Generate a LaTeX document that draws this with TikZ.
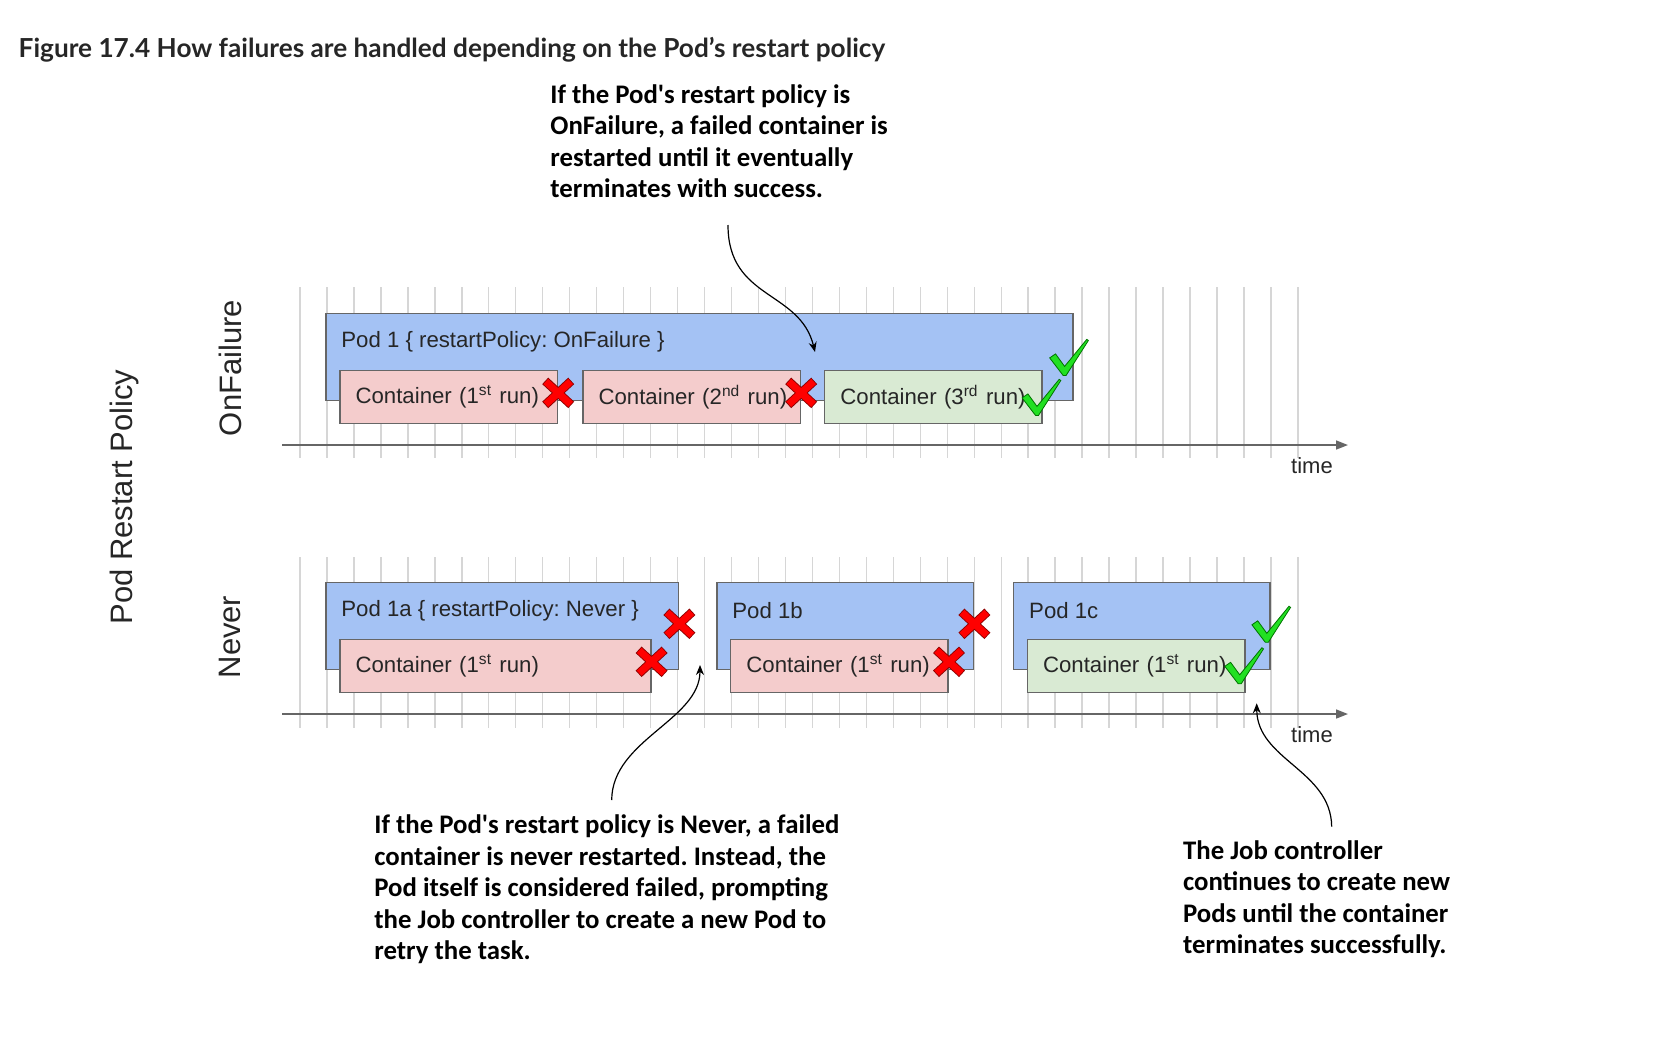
\documentclass[tikz,border=0pt]{standalone}
\usepackage{fontspec}
\setmainfont{Liberation Sans}
\newfontfamily\notefont{Carlito}
\newfontfamily\titlefont{Lato}
\usetikzlibrary{arrows.meta, positioning}
\frenchspacing

\definecolor{podblue}{HTML}{A4C2F4}
\definecolor{failpink}{HTML}{F4CCCC}
\definecolor{okgreen}{HTML}{D9EAD3}
\definecolor{edgegray}{HTML}{666666}
\definecolor{gridgray}{HTML}{D6D6D6}
\definecolor{tickgreen}{HTML}{22E022}

\begin{document}
\begin{tikzpicture}[x=0.5pt, y=-0.5pt,
    pod/.style={draw=edgegray, line width=0.8pt, fill=podblue, anchor=north west, inner sep=0pt, minimum height=43.5pt},
    ctr/.style={draw=edgegray, line width=0.8pt, anchor=north west, inner xsep=7.9pt, inner ysep=0pt, minimum height=26.5pt, text width=#1, align=left, font=\fontsize{11.1}{13}\selectfont, text=black!85},
    podname/.style={anchor=west, inner sep=0pt, font=\fontsize{11.1}{13}\selectfont, text=black!85},
    sidelabel/.style={rotate=90, inner sep=0pt, font=\fontsize{15.5}{18}\selectfont, text=black!85},
    timelabel/.style={inner sep=0pt, font=\fontsize{11}{13}\selectfont, text=black!85},
    note/.style={anchor=base west, inner sep=0pt, align=left, font=\notefont\bfseries\fontsize{13.4}{15.75}\selectfont},
    gridline/.style={gridgray, line width=0.7pt},
    timeaxis/.style={edgegray, line width=0.8pt, -{Triangle[length=6pt, width=4.5pt]}},
    callout/.style={black, line width=0.6pt, -{Stealth[length=5pt, width=4pt]}},
    failmark/.pic={
        \draw[red!55!black, line width=4.4pt] (-13,-12) -- (13,12) (-13,12) -- (13,-12);
        \draw[red, line width=3.5pt] (-12.4,-11.4) -- (12.4,11.4) (-12.4,11.4) -- (12.4,-11.4);
    },
    okmark/.pic={
        \filldraw[fill=tickgreen, draw=green!45!black, line width=0.4pt]
            (-14.9,-15) -- (-9.1,-19) -- (0,-6.5) -- (22.2,-33.6) -- (23.8,-32.4) -- (1.5,2.5) -- (-1.5,2.5) -- cycle;
    }]
    \useasboundingbox (0,0) rectangle (1656,1045);

    % Title
    \node[anchor=base west, inner sep=0pt, font=\titlefont\bfseries\fontsize{13.1}{16}\selectfont, text=black!85] (title) at (18.3,57.3)
        {Figure 17.4 How failures are handled depending on the Pod’s restart policy};

    % Side labels
    \node[sidelabel] (policy) at (124.6,497) {Pod Restart Policy};
    \node[sidelabel] (onfail) at (230,368) {OnFailure};
    \node[sidelabel] (never) at (230,637) {Never};

    % Time grids
    \foreach \i in {0,...,37} {
        \draw[gridline] ({300+26.97*\i},287) -- ++(0,171);
        \draw[gridline] ({300+26.97*\i},557) -- ++(0,171);
    }
    \draw[timeaxis] (282,445) -- (1348,445);
    \draw[timeaxis] (282,714) -- (1348,714);
    \node[timelabel] (time1) at (1312,466) {time};
    \node[timelabel] (time2) at (1312,735) {time};

    % OnFailure: one Pod, container restarted
    \node[pod, minimum width=373.5pt] (p1) at (325,312.6) {};
    \node[podname] (l1) at ([shift={(16,29)}]p1.north west) {Pod 1 \{ restartPolicy: OnFailure \}};
    \node[ctr=93pt, fill=failpink] (c1) at (339,369.6) {\mbox{Container (1\textsuperscript{st} run)}};
    \node[ctr=93pt, fill=failpink] (c2) at (582,369.6) {\mbox{Container (2\textsuperscript{nd} run)}};
    \node[ctr=93pt, fill=okgreen] (c3) at (823.8,369.6) {\mbox{Container (3\textsuperscript{rd} run)}};
    \pic at ([yshift=2pt]c1.east) {failmark};
    \pic at ([yshift=2pt]c2.east) {failmark};
    \pic at ([shift={(-6,16)}]c3.east) {okmark};
    \pic at ([shift={(-9,16)}]p1.east) {okmark};

    % Never: a new Pod for every failure
    \node[pod, minimum width=176.4pt] (p1a) at (325,581.5) {};
    \node[podname] (l1a) at ([shift={(16,29)}]p1a.north west) {Pod 1a \{ restartPolicy: Never \}};
    \node[ctr=139.7pt, fill=failpink] (c1a) at (339,638.5) {\mbox{Container (1\textsuperscript{st} run)}};
    \pic at ([yshift=1pt]p1a.east) {failmark};
    \pic at ([yshift=2pt]c1a.east) {failmark};

    \node[pod, minimum width=128.4pt] (p1b) at (716,581.5) {};
    \node[podname] (l1b) at ([shift={(16,29)}]p1b.north west) {Pod 1b};
    \node[ctr=93pt, fill=failpink] (c1b) at (729.8,638.5) {\mbox{Container (1\textsuperscript{st} run)}};
    \pic at ([yshift=1pt]p1b.east) {failmark};
    \pic at ([yshift=2pt]c1b.east) {failmark};

    \node[pod, minimum width=128.2pt] (p1c) at (1012.8,581.5) {};
    \node[podname] (l1c) at ([shift={(16,29)}]p1c.north west) {Pod 1c};
    \node[ctr=93pt, fill=okgreen] (c1c) at (1026.5,638.5) {\mbox{Container (1\textsuperscript{st} run)}};
    \pic at ([shift={(-4,14)}]p1c.east) {okmark};
    \pic at ([shift={(-6,15.5)}]c1c.east) {okmark};

    % Notes and callouts (anchored on the last line's baseline)
    \node[note] (noteA) at (550,197.5) {If the Pod\textquotesingle s restart policy is\\OnFailure, a failed container is\\restarted until it eventually\\terminates with success.};
    \node[note] (noteB) at (374,959.5) {If the Pod\textquotesingle s restart policy is Never, a failed\\container is never restarted. Instead, the\\Pod itself is considered failed, prompting\\the Job controller to create a new Pod to\\retry the task.};
    \node[note] (noteC) at (1182.7,953.5) {The Job controller\\continues to create new\\Pods until the container\\terminates successfully.};

    \coordinate (footA) at (728,225);
    \coordinate (gapA) at (815,352);
    \coordinate (footB) at (611.7,800);
    \coordinate (gapB) at (700,665);
    \coordinate (footC) at (1331.7,826.7);
    \coordinate (gapC) at (1256.7,703.3);
    \draw[callout] (footA) .. controls (728,300) and (800,290) .. (gapA);
    \draw[callout] (footB) .. controls (612,740) and (700,720) .. (gapB);
    \draw[callout] (footC) .. controls (1331,770) and (1257,760) .. (gapC);
\end{tikzpicture}
\end{document}
